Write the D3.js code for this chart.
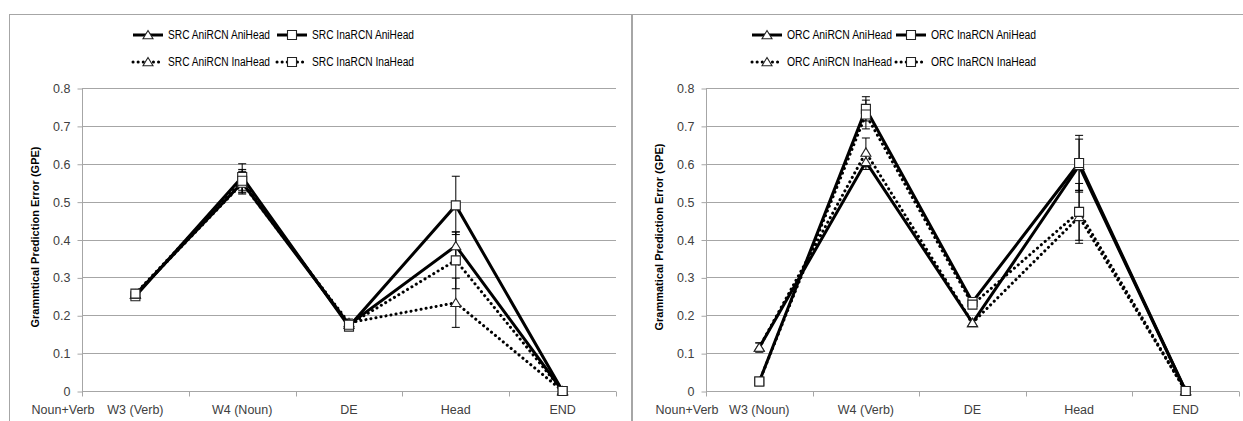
<!DOCTYPE html>
<html>
<head>
<meta charset="utf-8">
<script src="https://cdn.jsdelivr.net/npm/d3@7"></script>
<style>
  body { margin: 0; background: #fff; }
  svg { display: block; font-family: "Liberation Sans", Arial, sans-serif; }
</style>
</head>
<body>
<svg id="chart" width="1243" height="421"></svg>
<script>
// categories and tick labels
var srcCategories = ["W3 (Verb)", "W4 (Noun)", "DE", "Head", "END"];
var orcCategories = ["W3 (Noun)", "W4 (Verb)", "DE", "Head", "END"];
var yTicks = [0, 0.1, 0.2, 0.3, 0.4, 0.5, 0.6, 0.7, 0.8];

// SRC panel values (GPE) and error bar half widths
var srcAniRcnAniHead = [0.255, 0.55, 0.175, 0.383, 0];
var srcInaRcnAniHead = [0.25, 0.565, 0.17, 0.49, 0];
var srcAniRcnInaHead = [0.255, 0.548, 0.18, 0.233, 0];
var srcInaRcnInaHead = [0.257, 0.555, 0.175, 0.345, 0];
var srcAniRcnAniHeadErr = [0.01, 0.03, 0.01, 0.037, 0];
var srcInaRcnAniHeadErr = [0.01, 0.035, 0.01, 0.077, 0];
var srcAniRcnInaHeadErr = [0.01, 0.025, 0.01, 0.065, 0];
var srcInaRcnInaHeadErr = [0.01, 0.03, 0.01, 0.075, 0];

// ORC panel values (GPE) and error bar half widths
var orcAniRcnAniHead = [0.115, 0.605, 0.18, 0.595, 0];
var orcInaRcnAniHead = [0.025, 0.745, 0.235, 0.602, 0];
var orcAniRcnInaHead = [0.115, 0.63, 0.18, 0.46, 0];
var orcInaRcnInaHead = [0.025, 0.73, 0.228, 0.473, 0];
var orcAniRcnAniHeadErr = [0.012, 0.02, 0.008, 0.07, 0];
var orcInaRcnAniHeadErr = [0.008, 0.032, 0.01, 0.073, 0];
var orcAniRcnInaHeadErr = [0.012, 0.038, 0.008, 0.07, 0];
var orcInaRcnInaHeadErr = [0.008, 0.038, 0.01, 0.075, 0];

var svg = d3.select("#chart");

// panel frames
svg.append("rect").attr("x", 9.5).attr("y", 14.5).attr("width", 622).attr("height", 420)
    .attr("fill", "none").attr("stroke", "#a6a6a6");
svg.append("rect").attr("x", 632.5).attr("y", 14.5).attr("width", 620).attr("height", 420)
    .attr("fill", "none").attr("stroke", "#a6a6a6");

function markerPath(shape){
    if (shape === "tri") return "M0,-4.5L5,3.8L-5,3.8Z";
    return "M-4.5,-4.5H4.5V4.5H-4.5Z";
}

function drawSeries(layer, x, y, cats, s){
    var pts = s.values.map(function(v, i){ return {c: cats[i], v: v, e: s.err[i]}; });
    var cx = function(d){ return x(d.c) + x.bandwidth() / 2; };

    // error bars
    var eb = layer.append("g").attr("stroke", "#000").attr("stroke-width", 1);
    pts.filter(function(d){ return d.e > 0; }).forEach(function(d){
        var px = cx(d);
        eb.append("line").attr("x1", px).attr("x2", px)
            .attr("y1", y(d.v - d.e)).attr("y2", y(d.v + d.e));
        eb.append("line").attr("x1", px - 4).attr("x2", px + 4)
            .attr("y1", y(d.v - d.e)).attr("y2", y(d.v - d.e));
        eb.append("line").attr("x1", px - 4).attr("x2", px + 4)
            .attr("y1", y(d.v + d.e)).attr("y2", y(d.v + d.e));
    });

    var line = d3.line().x(cx).y(function(d){ return y(d.v); });
    layer.append("path")
        .datum(pts)
        .attr("fill", "none")
        .attr("stroke", "#000")
        .attr("stroke-width", 3)
        .attr("stroke-linecap", s.dotted ? "round" : "butt")
        .attr("stroke-dasharray", s.dotted ? "0.1,5" : null)
        .attr("d", line);

    s.markerLayer.selectAll(null)
        .data(pts).enter()
        .append("path")
        .attr("d", markerPath(s.shape))
        .attr("transform", function(d){ return "translate(" + cx(d) + "," + y(d.v) + ")"; })
        .attr("fill", "#fff")
        .attr("stroke", "#222")
        .attr("stroke-width", 1.1);
}

function drawPanel(o){
    var g = svg.append("g");
    var x = d3.scaleBand().domain(o.categories).range([o.left, o.right]).padding(0);
    var y = d3.scaleLinear().domain([0, 0.8]).range([391, 88]);

    // gridlines
    g.selectAll(".grid").data(yTicks.slice(1)).enter()
        .append("line")
        .attr("x1", o.left).attr("x2", o.right)
        .attr("y1", function(d){ return Math.round(y(d)) + 0.5; })
        .attr("y2", function(d){ return Math.round(y(d)) + 0.5; })
        .attr("stroke", "#a6a6a6").attr("stroke-width", 1);

    // y axis
    var yAxis = g.append("g").attr("transform", "translate(" + (o.left + 0.5) + ",0.5)")
        .call(d3.axisLeft(y).tickValues(yTicks).tickSize(5).tickPadding(7)
            .tickFormat(function(d){ return d === 0 ? "0" : d3.format(".1f")(d); }));
    yAxis.select(".domain").attr("stroke", "#a6a6a6").attr("d", "M0," + y(0) + "V" + y(0.8));
    yAxis.selectAll(".tick line").attr("stroke", "#a6a6a6");
    yAxis.selectAll("text").attr("font-size", 12.5).attr("fill", "#404040")
        .attr("font-family", "Liberation Sans, Arial, sans-serif");

    // x axis with ticks at band edges
    var xAxis = g.append("g").attr("transform", "translate(0," + (Math.round(y(0)) + 0.5) + ")");
    xAxis.append("line").attr("x1", o.left).attr("x2", o.right)
        .attr("stroke", "#a6a6a6");
    var edges = o.categories.map(function(c){ return x(c); }).concat([o.right]);
    xAxis.selectAll(".edge").data(edges).enter()
        .append("line")
        .attr("x1", function(d){ return Math.round(d) + 0.5; })
        .attr("x2", function(d){ return Math.round(d) + 0.5; })
        .attr("y1", 0).attr("y2", 5)
        .attr("stroke", "#a6a6a6");
    xAxis.selectAll(".cat").data(o.categories).enter()
        .append("text")
        .attr("x", function(d){ return x(d) + x.bandwidth() / 2; })
        .attr("y", 22)
        .attr("text-anchor", "middle")
        .attr("font-size", 12.5)
        .attr("fill", "#404040")
        .text(function(d){ return d; });
    xAxis.append("text")
        .attr("x", o.left - 19).attr("y", 22)
        .attr("text-anchor", "middle")
        .attr("font-size", 12.5)
        .attr("fill", "#404040")
        .text("Noun+Verb");

    // y title
    g.append("text")
        .attr("transform", "translate(" + (o.left - 43) + "," + 237 + ") rotate(-90)")
        .attr("text-anchor", "middle")
        .attr("font-size", 11)
        .attr("font-weight", "bold")
        .attr("fill", "#000")
        .text(o.yTitle);

    var lineLayer = g.append("g");
    var markerLayer = g.append("g");
    o.series.forEach(function(s){
        s.markerLayer = markerLayer;
        drawSeries(lineLayer, x, y, o.categories, s);
    });

    // legend: two rows, two items each
    var lg = g.append("g");
    o.series.forEach(function(s, i){
        var col = i % 2, row = Math.floor(i / 2);
        var lx = o.legendX + col * 144, ly = 35 + row * 27;
        lg.append("line").attr("x1", lx).attr("x2", lx + 30).attr("y1", ly).attr("y2", ly)
            .attr("stroke", "#000").attr("stroke-width", 3)
            .attr("stroke-linecap", s.dotted ? "round" : "butt")
            .attr("stroke-dasharray", s.dotted ? "0.1,5" : null);
        lg.append("path").attr("d", markerPath(s.shape))
            .attr("transform", "translate(" + (lx + 15) + "," + ly + ")")
            .attr("fill", "#fff").attr("stroke", "#222").attr("stroke-width", 1.1);
        lg.append("text").attr("x", lx + 35).attr("y", ly + 4)
            .attr("font-size", 12).attr("fill", "#000")
            .attr("textLength", o.legendTextWidth)
            .attr("lengthAdjust", "spacingAndGlyphs")
            .text(s.name);
    });
}

drawPanel({
    left: 82, right: 616, legendX: 133, legendTextWidth: 102,
    categories: srcCategories,
    yTitle: "Grammtical Prediction Error (GPE)",
    series: [
        {name: "SRC AniRCN AniHead", values: srcAniRcnAniHead, err: srcAniRcnAniHeadErr, shape: "tri", dotted: false},
        {name: "SRC InaRCN AniHead", values: srcInaRcnAniHead, err: srcInaRcnAniHeadErr, shape: "sq", dotted: false},
        {name: "SRC AniRCN InaHead", values: srcAniRcnInaHead, err: srcAniRcnInaHeadErr, shape: "tri", dotted: true},
        {name: "SRC InaRCN InaHead", values: srcInaRcnInaHead, err: srcInaRcnInaHeadErr, shape: "sq", dotted: true}
    ]
});

drawPanel({
    left: 706, right: 1239, legendX: 752, legendTextWidth: 105,
    categories: orcCategories,
    yTitle: "Grammatical Prediction Error (GPE)",
    series: [
        {name: "ORC AniRCN AniHead", values: orcAniRcnAniHead, err: orcAniRcnAniHeadErr, shape: "tri", dotted: false},
        {name: "ORC InaRCN AniHead", values: orcInaRcnAniHead, err: orcInaRcnAniHeadErr, shape: "sq", dotted: false},
        {name: "ORC AniRCN InaHead", values: orcAniRcnInaHead, err: orcAniRcnInaHeadErr, shape: "tri", dotted: true},
        {name: "ORC InaRCN InaHead", values: orcInaRcnInaHead, err: orcInaRcnInaHeadErr, shape: "sq", dotted: true}
    ]
});
</script>
</body>
</html>
